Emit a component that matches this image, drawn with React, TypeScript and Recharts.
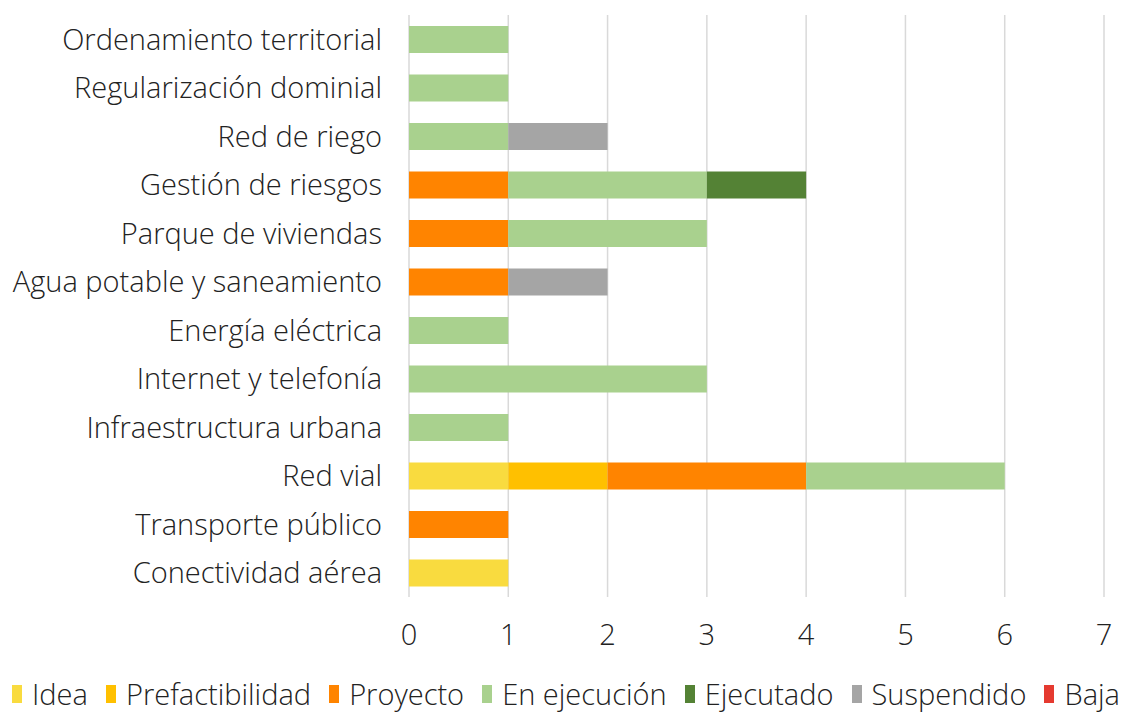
import { BarChart, Bar, XAxis, YAxis, CartesianGrid, Legend } from "recharts"

const categories = [
  "Ordenamiento territorial",
  "Regularización dominial",
  "Red de riego",
  "Gestión de riesgos",
  "Parque de viviendas",
  "Agua potable y saneamiento",
  "Energía eléctrica",
  "Internet y telefonía",
  "Infraestructura urbana",
  "Red vial",
  "Transporte público",
  "Conectividad aérea",
]

const idea = [0, 0, 0, 0, 0, 0, 0, 0, 0, 1, 0, 1]
const prefactibilidad = [0, 0, 0, 0, 0, 0, 0, 0, 0, 1, 0, 0]
const proyecto = [0, 0, 0, 1, 1, 1, 0, 0, 0, 2, 1, 0]
const enEjecucion = [1, 1, 1, 2, 2, 0, 1, 3, 1, 2, 0, 0]
const ejecutado = [0, 0, 0, 1, 0, 0, 0, 0, 0, 0, 0, 0]
const suspendido = [0, 0, 1, 0, 0, 1, 0, 0, 0, 0, 0, 0]
const baja = [0, 0, 0, 0, 0, 0, 0, 0, 0, 0, 0, 0]

const xTicks = [0, 1, 2, 3, 4, 5, 6, 7]

const series = [
  { key: "idea", name: "Idea", values: idea, color: "#F9DB3F" },
  { key: "prefactibilidad", name: "Prefactibilidad", values: prefactibilidad, color: "#FFC000" },
  { key: "proyecto", name: "Proyecto", values: proyecto, color: "#FF8400" },
  { key: "enEjecucion", name: "En ejecución", values: enEjecucion, color: "#A9D18E" },
  { key: "ejecutado", name: "Ejecutado", values: ejecutado, color: "#548235" },
  { key: "suspendido", name: "Suspendido", values: suspendido, color: "#A5A5A5" },
  { key: "baja", name: "Baja", values: baja, color: "#E53A30" },
]

const data = categories.map((name, i) => {
  const row: Record<string, string | number> = { name }
  series.forEach(s => { row[s.key] = s.values[i] })
  return row
})

const FONT = "'Open Sans', sans-serif"
const FS = 29

function LegendRow() {
  return (
    <div style={{ display: "flex", justifyContent: "space-between", alignItems: "center", height: 32, lineHeight: "32px", fontFamily: FONT, fontWeight: 300, fontSize: FS, color: "#222", paddingLeft: 12, paddingRight: 3 }}>
      {series.map(s => (
        <div key={s.key} style={{ display: "flex", alignItems: "center", whiteSpace: "nowrap" }}>
          <span style={{ display: "inline-block", width: 10, height: 18, background: s.color, marginRight: 10 }} />
          <span>{s.name}</span>
        </div>
      ))}
    </div>
  )
}

export default function App() {
  return (
    <div style={{ position: "absolute", left: 0, top: 0, background: "#fff" }}>
      <BarChart
        width={1123}
        height={713}
        data={data}
        layout="vertical"
        margin={{ top: 15, right: 19, left: 0, bottom: 3 }}
        barSize={27}
      >
        <CartesianGrid horizontal={false} stroke="#D9D9D9" strokeWidth={1.5} />
        <XAxis
          type="number"
          domain={[0, 7]}
          ticks={xTicks}
          axisLine={false}
          tickLine={false}
          tickSize={0}
          tickMargin={27}
          height={81}
          tick={{ fontSize: FS, fill: "#222", fontFamily: FONT, fontWeight: 300 }}
        />
        <YAxis
          type="category"
          dataKey="name"
          width={409}
          axisLine={false}
          tickLine={false}
          tickSize={0}
          tickMargin={27}
          interval={0}
          tick={{ fontSize: FS, fill: "#222", fontFamily: FONT, fontWeight: 300 }}
        />
        {series.map(s => (
          <Bar key={s.key} dataKey={s.key} name={s.name} stackId="a" fill={s.color} isAnimationActive={false} />
        ))}
        <Legend
          verticalAlign="bottom"
          height={32}
          wrapperStyle={{ left: 0, width: 1123 }}
          content={() => <LegendRow />}
        />
      </BarChart>
    </div>
  )
}
